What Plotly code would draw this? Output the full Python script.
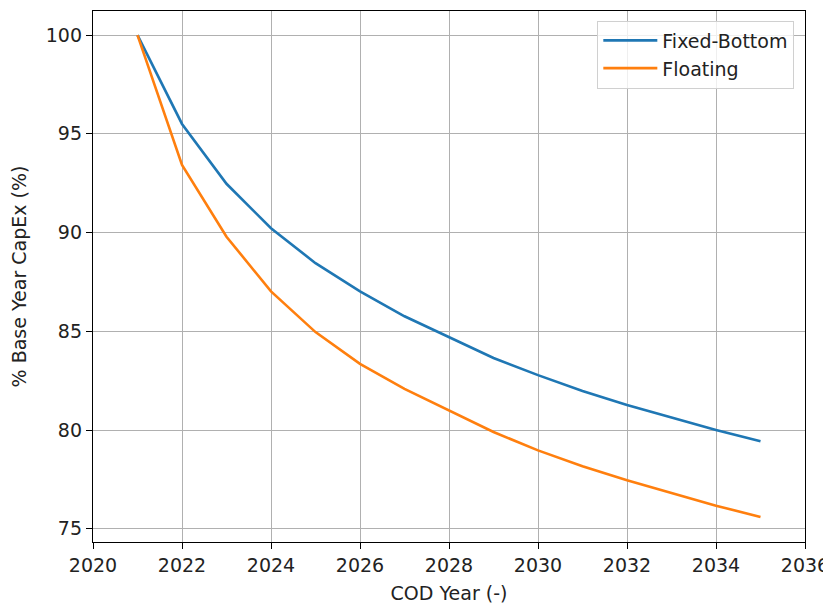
import plotly.graph_objects as go

years = list(range(2021, 2036))
fixed_bottom = [100.0, 95.5, 92.47, 90.22, 88.45, 87.02, 85.76, 84.7, 83.65, 82.78, 81.98, 81.27, 80.62, 80.0, 79.43]
floating = [100.0, 93.43, 89.79, 87.02, 84.96, 83.35, 82.08, 80.97, 79.9, 78.97, 78.17, 77.46, 76.8, 76.17, 75.6]

x_ticks = list(range(2020, 2037, 2))
y_ticks = [75, 80, 85, 90, 95, 100]

fig = go.Figure()
fig.add_trace(go.Scatter(x=years, y=fixed_bottom, mode="lines", name="Fixed-Bottom",
                         line=dict(color="#1f77b4", width=2.6)))
fig.add_trace(go.Scatter(x=years, y=floating, mode="lines", name="Floating",
                         line=dict(color="#ff7f0e", width=2.6)))

axis_common = dict(showline=True, linecolor="black", linewidth=1.3, mirror=True,
                   ticks="outside", ticklen=6, tickcolor="black", tickwidth=1.3,
                   showgrid=True, gridcolor="#b0b0b0", gridwidth=1.3, zeroline=False,
                   ticklabeloverflow="allow",
                   tickfont=dict(size=19, color="#222222"))

fig.update_layout(
    width=823, height=596,
    margin=dict(l=85, r=23, t=2, b=62),
    paper_bgcolor="white", plot_bgcolor="white",
    font=dict(family="DejaVu Sans", size=19, color="#222222"),
    xaxis=dict(range=[2020, 2036], tickvals=x_ticks,
               title=dict(text="COD Year (-)", standoff=11, font=dict(size=19)), **axis_common),
    yaxis=dict(range=[74.33, 101.22], tickvals=y_ticks,
               title=dict(text="% Base Year CapEx (%)", standoff=16, font=dict(size=19)), **axis_common),
    legend=dict(x=0.985, y=0.982, xanchor="right", yanchor="top",
                bgcolor="rgba(255,255,255,0.8)", bordercolor="#d0d0d0", borderwidth=1,
                itemwidth=54, font=dict(size=19)),
    showlegend=True,
)

fig.write_html("out.html")
